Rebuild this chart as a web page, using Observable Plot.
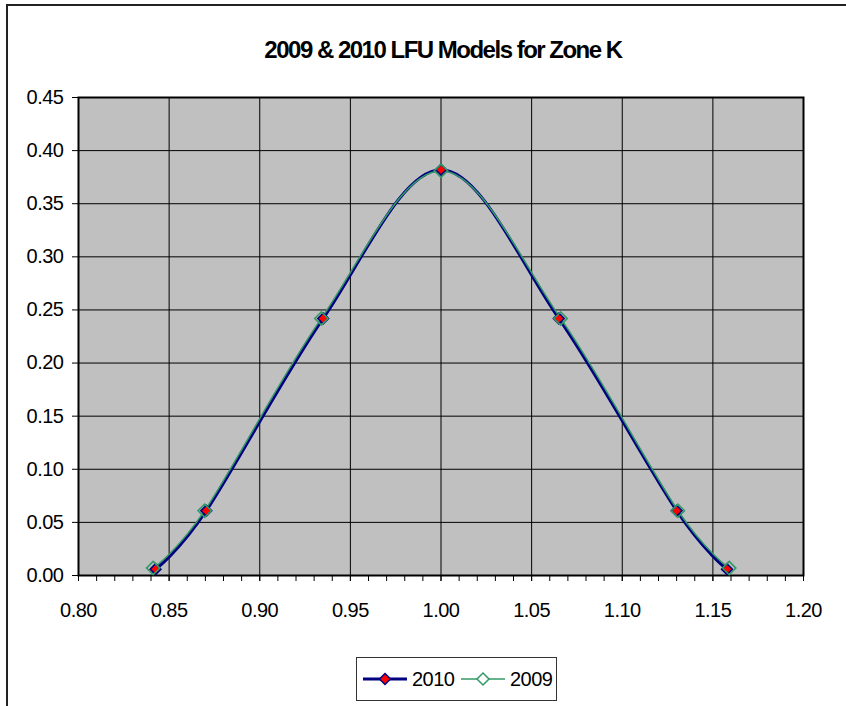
<!DOCTYPE html>
<html><head><meta charset="utf-8">
<script src="https://cdn.jsdelivr.net/npm/d3@7"></script>
<script src="https://cdn.jsdelivr.net/npm/@observablehq/plot@0.6"></script>
<style>
html,body{margin:0;padding:0;background:#fff;overflow:hidden;width:846px;height:706px}
#wrap{position:relative;width:846px;height:706px;font-family:"Liberation Sans",Arial,sans-serif}
#border{position:absolute;left:6px;top:4px;width:900px;height:800px;border:2px solid #222;box-sizing:border-box}
#title{position:absolute;left:0;width:886px;top:35px;text-align:center;font-weight:bold;font-size:24px;letter-spacing:-1.5px;line-height:30px;color:#000}
#chart{position:absolute;left:0;top:0}
#legend{position:absolute;left:356px;top:657px;width:201px;height:44px;border:1px solid #333;box-sizing:border-box;background:#fff}
</style></head>
<body><div id="wrap"><div id="border"></div><div id="title">2009 &amp; 2010 LFU Models for Zone K</div><div id="chart"></div><div id="legend"></div></div>
<script>
// Data
const seriesNames = ["2010", "2009"];
const x2010 = [0.8425, 0.8705, 0.935, 1.000, 1.065, 1.1300, 1.1578];
const p2010 = [0.006, 0.061, 0.242, 0.382, 0.242, 0.061, 0.006];
const x2009 = [0.8412, 0.8696, 0.934, 1.000, 1.066, 1.1307, 1.1590];
const p2009 = [0.007, 0.061, 0.242, 0.381, 0.242, 0.061, 0.007];
const xTicks = [0.80, 0.85, 0.90, 0.95, 1.00, 1.05, 1.10, 1.15, 1.20];
const xMinor = d3.range(80, 121).map(d => d / 100);
const yTicks = [0.00, 0.05, 0.10, 0.15, 0.20, 0.25, 0.30, 0.35, 0.40, 0.45];

const d2010 = x2010.map((x, i) => ({x, p: p2010[i]}));
const d2009 = x2009.map((x, i) => ({x, p: p2009[i]}));

const sqDiamond = {
  draw(ctx, size) {
    const r = Math.sqrt(size / 2);
    ctx.moveTo(0, -r); ctx.lineTo(r, 0); ctx.lineTo(0, r); ctx.lineTo(-r, 0); ctx.closePath();
  }
};

const navy = "#000080", green = "#339966", red = "#ff0000";
const fmt = d3.format(".2f");

const chart = Plot.plot({
  width: 846, height: 640,
  marginLeft: 78, marginRight: 43, marginTop: 97, marginBottom: 65,
  style: {fontFamily: "'Liberation Sans', Arial, sans-serif", fontSize: "20px", background: "transparent", color: "#000", letterSpacing: "-0.5px"},
  x: {domain: [0.8, 1.2]},
  y: {domain: [0, 0.45]},
  marks: [
    Plot.frame({fill: "#c0c0c0"}),
    Plot.ruleX(xTicks.slice(1, -1), {stroke: "#000", strokeWidth: 1}),
    Plot.ruleY(yTicks.slice(1, -1), {stroke: "#000", strokeWidth: 1}),
    Plot.frame({stroke: "#000", strokeWidth: 2}),
    Plot.axisY({ticks: yTicks, tickFormat: fmt, tickSize: 6, tickPadding: 9, label: null, strokeWidth: 1}),
    Plot.axisX({ticks: xMinor, tickSize: 6, text: null, label: null}),
    Plot.axisX({ticks: xTicks, tickFormat: fmt, tickSize: 6, tickPadding: 21, label: null}),
    Plot.line(d2010, {x: "x", y: "p", stroke: navy, strokeWidth: 3, curve: "cardinal", tension: 0}),
    Plot.line(d2009, {x: "x", y: "p", stroke: green, strokeWidth: 1.5, curve: "cardinal", tension: 0}),
    Plot.dot(d2010, {x: "x", y: "p", symbol: sqDiamond, r: 4.3, fill: red, stroke: navy, strokeWidth: 1.6}),
    Plot.dot(d2009, {x: "x", y: "p", symbol: sqDiamond, r: 5.3, fill: "none", stroke: green, strokeWidth: 1.6})
  ]
});
document.getElementById("chart").appendChild(chart);

// Legend
const leg = d3.select("#legend").append("svg").attr("width", 199).attr("height", 42)
  .style("font-family", "'Liberation Sans', Arial, sans-serif").style("font-size", "20px").style("letter-spacing", "-0.5px");
const items = [
  {name: seriesNames[0], x0: 6, stroke: navy, sw: 3, fill: red, ds: navy, r: 5.5},
  {name: seriesNames[1], x0: 104, stroke: green, sw: 1.5, fill: "#fff", ds: green, r: 6}
];
const cy = 21;
items.forEach(it => {
  leg.append("line").attr("x1", it.x0).attr("x2", it.x0 + 44).attr("y1", cy).attr("y2", cy).attr("stroke", it.stroke).attr("stroke-width", it.sw);
  const cx = it.x0 + 22;
  leg.append("path").attr("d", `M${cx},${cy - it.r}L${cx + it.r},${cy}L${cx},${cy + it.r}L${cx - it.r},${cy}Z`)
    .attr("fill", it.fill).attr("stroke", it.ds).attr("stroke-width", 1.5);
  leg.append("text").attr("x", it.x0 + 49).attr("y", cy + 7).text(it.name);
});
</script>
</body></html>
